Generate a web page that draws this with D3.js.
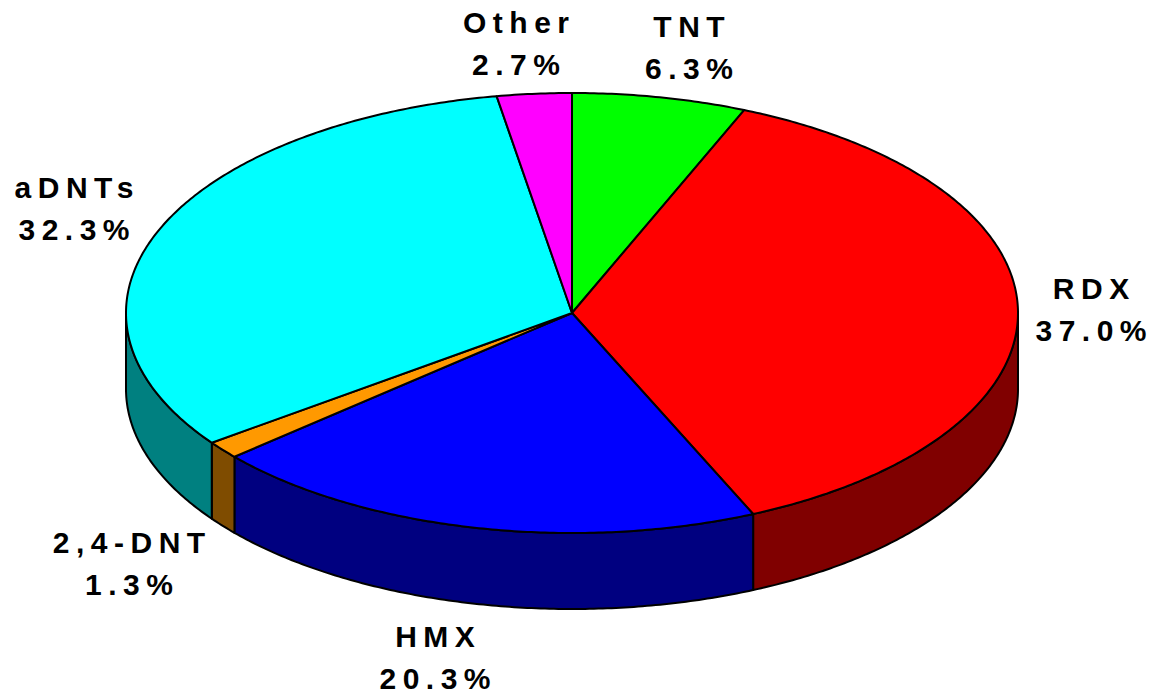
<!DOCTYPE html>
<html>
<head>
<meta charset="utf-8">
<script src="https://cdn.jsdelivr.net/npm/d3@7/dist/d3.min.js"></script>
<style>
  html, body { margin: 0; padding: 0; background: #fff; }
  svg { display: block; }
</style>
</head>
<body>
<svg id="chart" width="1160" height="694"></svg>
<script>
// ---- data ----
const categories = ["TNT", "RDX", "HMX", "2,4-DNT", "aDNTs", "Other"];
const percentValues = [6.3, 37.0, 20.3, 1.3, 32.3, 2.7];
const percentLabels = ["6.3%", "37.0%", "20.3%", "1.3%", "32.3%", "2.7%"];
const topColors = ["#00ff00", "#ff0000", "#0000ff", "#ff9900", "#00ffff", "#ff00ff"];
const sideColors = ["#008000", "#800000", "#000080", "#7f4c00", "#008080", "#800080"];
// label anchor centres (name baseline); percent line sits below
const labelX = [689, 1091, 435, 129, 74, 516];
const labelY = [37, 299, 647, 553, 198, 33];

// ---- layout ----
const svg = d3.select("#chart");
const cx = 572, cy = 313, rx = 446, ry = 220, depth = 76;
const fontSize = 30, spacing = 6.5, lineGap = 42;

const pie = d3.pie().sort(null).value(d => d)(percentValues);

function pt(theta, dy) {
  return [cx + rx * Math.sin(theta), cy - ry * Math.cos(theta) + (dy || 0)];
}
function arcPts(a0, a1, dy) {
  const n = Math.max(2, Math.ceil(Math.abs(a1 - a0) / 0.01));
  const out = [];
  for (let i = 0; i <= n; i++) out.push(pt(a0 + (a1 - a0) * i / n, dy));
  return out;
}
const line = d3.line();

// side walls (front half: angles between PI/2 and 3PI/2)
const frontA = Math.PI / 2, frontB = 3 * Math.PI / 2;
const sides = svg.append("g");
pie.forEach((p, i) => {
  const a0 = Math.max(p.startAngle, frontA);
  const a1 = Math.min(p.endAngle, frontB);
  if (a1 <= a0) return;
  const pts = arcPts(a0, a1, 0).concat(arcPts(a1, a0, depth));
  sides.append("path")
    .attr("d", line(pts) + "Z")
    .attr("fill", sideColors[i])
    .attr("stroke", "#000")
    .attr("stroke-width", 2)
    .attr("stroke-linejoin", "round");
});

// top faces
const tops = svg.append("g");
pie.forEach((p, i) => {
  const pts = [[cx, cy]].concat(arcPts(p.startAngle, p.endAngle, 0));
  tops.append("path")
    .attr("d", line(pts) + "Z")
    .attr("fill", topColors[i])
    .attr("stroke", "#000")
    .attr("stroke-width", 2)
    .attr("stroke-linejoin", "round");
});

// labels
const labels = svg.append("g")
  .attr("font-family", "'Liberation Sans', Arial, sans-serif")
  .attr("font-weight", "bold")
  .attr("font-size", fontSize)
  .attr("letter-spacing", spacing)
  .attr("text-anchor", "middle")
  .attr("fill", "#000");
categories.forEach((c, i) => {
  labels.append("text")
    .attr("x", labelX[i] + spacing / 2)
    .attr("y", labelY[i])
    .text(c);
  labels.append("text")
    .attr("x", labelX[i] + spacing / 2)
    .attr("y", labelY[i] + lineGap)
    .text(percentLabels[i]);
});
</script>
</body>
</html>
